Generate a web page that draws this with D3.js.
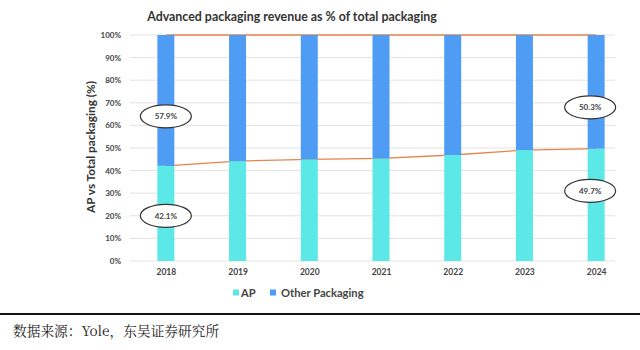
<!DOCTYPE html>
<html>
<head>
<meta charset="utf-8">
<script src="https://cdn.jsdelivr.net/npm/d3@7"></script>
<style>
  body { margin:0; background:#fff; }
  svg { display:block; }
</style>
</head>
<body>
<svg id="chart" width="640" height="350"></svg>
<script>
// data
var years = ["2018","2019","2020","2021","2022","2023","2024"];
var apShare = [42.1, 44.2, 45.0, 45.4, 46.9, 49.1, 49.7];
var otherShare = apShare.map(function(v){ return +(100 - v).toFixed(1); });
var yTicks = [0,10,20,30,40,50,60,70,80,90,100];
var seriesNames = ["AP","Other Packaging"];
var callouts = [
  {year:"2018", value:57.9, at:64},
  {year:"2018", value:42.1, at:20},
  {year:"2024", value:50.3, at:68},
  {year:"2024", value:49.7, at:31}
];

var colAP = "#5ce8e6", colOther = "#4f9cf4", colLine = "#e8834c";

var svg = d3.select("#chart");

var x = d3.scalePoint()
    .domain(years)
    .range([130, 632])
    .padding(0.5);

var y = d3.scaleLinear()
    .domain([0,100])
    .range([261, 35]);

var barW = 17;

// title
svg.append("text")
    .attr("x", 292).attr("y", 21)
    .attr("text-anchor","middle")
    .style("font-family","Lato, 'Open Sans', sans-serif")
    .style("font-weight","bold")
    .style("font-size","12.4px")
    .style("fill","#333")
    .text("Advanced packaging revenue as % of total packaging");

// gridlines
svg.append("g")
    .selectAll("line")
    .data(yTicks)
    .join("line")
    .attr("x1", 130).attr("x2", 615)
    .attr("y1", function(d){ return y(d); })
    .attr("y2", function(d){ return y(d); })
    .style("stroke","#e2e2e2")
    .style("stroke-width","1px");

// y axis labels
var yAxis = svg.append("g")
    .attr("transform","translate(124,0)")
    .call(d3.axisLeft(y).tickValues(yTicks).tickSize(0).tickFormat(function(d){ return d + "%"; }));
yAxis.select(".domain").remove();
yAxis.selectAll("text")
    .style("font-family","Lato, sans-serif")
    .style("font-weight","bold")
    .style("font-size","8px")
    .style("fill","#444");

// x axis labels
var xAxis = svg.append("g")
    .attr("transform","translate(0,264)")
    .call(d3.axisBottom(x).tickSize(0));
xAxis.select(".domain").remove();
xAxis.selectAll("text")
    .attr("dy","0.9em")
    .style("font-family","Lato, sans-serif")
    .style("font-weight","bold")
    .style("font-size","8.5px")
    .style("fill","#444");

// axis title
svg.append("text")
    .attr("transform","translate(95,147) rotate(-90)")
    .attr("text-anchor","middle")
    .style("font-family","Lato, sans-serif")
    .style("font-weight","bold")
    .style("font-size","11.8px")
    .style("fill","#333")
    .text("AP vs Total packaging (%)");

// lines (behind bars)
var line = d3.line()
    .x(function(d){ return x(d.year); })
    .y(function(d){ return y(d.v); });

svg.append("path")
    .datum(years.map(function(yr,i){ return {year:yr, v:apShare[i]}; }))
    .attr("d", line)
    .style("fill","none")
    .style("stroke", colLine)
    .style("stroke-width","1.3px");

svg.append("path")
    .datum(years.map(function(yr,i){ return {year:yr, v:apShare[i] + otherShare[i]}; }))
    .attr("d", line)
    .style("fill","none")
    .style("stroke", colLine)
    .style("stroke-width","1.3px");

// stacked bars
var bars = svg.append("g");
bars.selectAll("rect.ap")
    .data(years)
    .join("rect")
    .attr("class","ap")
    .attr("x", function(d){ return x(d) - barW/2; })
    .attr("width", barW)
    .attr("y", function(d,i){ return y(apShare[i]); })
    .attr("height", function(d,i){ return y(0) - y(apShare[i]); })
    .style("fill", colAP);

bars.selectAll("rect.other")
    .data(years)
    .join("rect")
    .attr("class","other")
    .attr("x", function(d){ return x(d) - barW/2; })
    .attr("width", barW)
    .attr("y", function(d,i){ return y(apShare[i] + otherShare[i]); })
    .attr("height", function(d,i){ return y(apShare[i]) - y(apShare[i] + otherShare[i]); })
    .style("fill", colOther);

// circled callouts
var co = svg.append("g").selectAll("g")
    .data(callouts)
    .join("g")
    .attr("transform", function(d){
        var dx = d.year === "2024" ? -6 : 0;
        return "translate(" + (x(d.year) + dx) + "," + y(d.at) + ")";
    });
co.append("ellipse")
    .attr("rx", 25.5).attr("ry", 11.5)
    .style("fill","#fff")
    .style("stroke","#333")
    .style("stroke-width","1.2px");
co.append("text")
    .attr("text-anchor","middle")
    .attr("dy","0.35em")
    .style("font-family","Lato, sans-serif")
    .style("font-weight","bold")
    .style("font-size","8px")
    .style("fill","#444")
    .text(function(d){ return d.value.toFixed(1) + "%"; });

// legend
var legX = [233, 270];
var leg = svg.append("g").selectAll("g")
    .data(seriesNames)
    .join("g")
    .attr("transform", function(d,i){ return "translate(" + legX[i] + ",293)"; });
leg.append("rect")
    .attr("x", 0).attr("y", -3.5)
    .attr("width", 6).attr("height", 6)
    .style("fill", function(d,i){ return i === 0 ? colAP : colOther; });
leg.append("text")
    .attr("x", function(d,i){ return i === 0 ? 8 : 11; })
    .attr("dy","0.35em")
    .style("font-family","Lato, sans-serif")
    .style("font-weight","bold")
    .style("font-size","11.2px")
    .style("fill","#444")
    .text(function(d){ return d; });

// divider and source
svg.append("line")
    .attr("x1", 0).attr("x2", 640)
    .attr("y1", 314).attr("y2", 314)
    .style("stroke","#111")
    .style("stroke-width","2px");

svg.append("text")
    .attr("x", 13).attr("y", 336)
    .style("font-family","'Noto Serif CJK SC', 'Noto Sans CJK SC', serif")
    .style("font-size","13.7px")
    .style("fill","#222")
    .text("数据来源：Yole，东吴证券研究所");
</script>
</body>
</html>
